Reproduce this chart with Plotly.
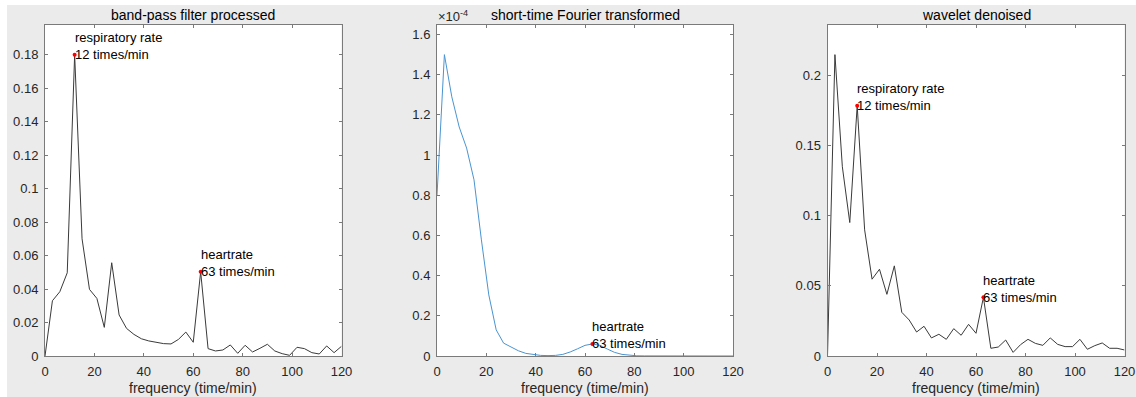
import plotly.graph_objects as go

# ---------------- data ----------------
freq = [0, 3, 6, 9, 12, 15, 18, 21, 24, 27, 30, 33, 36, 39, 42, 45, 48, 51, 54, 57,
        60, 63, 66, 69, 72, 75, 78, 81, 84, 87, 90, 93, 96, 99, 102, 105, 108, 111,
        114, 117, 120]

bandpass = [0.0, 0.033, 0.0384, 0.0497, 0.180, 0.070, 0.0398, 0.0344, 0.0171, 0.0557,
            0.0245, 0.0165, 0.0129, 0.0103, 0.0090, 0.0080, 0.0074, 0.0072, 0.0099, 0.0143,
            0.0082, 0.0503, 0.0044, 0.0030, 0.0036, 0.0066, 0.0016, 0.0064, 0.0024, 0.0046,
            0.0070, 0.0030, 0.0014, 0.0004, 0.0052, 0.0044, 0.0020, 0.0012, 0.0060, 0.0020,
            0.0058]

stft = [0.80e-4, 1.50e-4, 1.29e-4, 1.14e-4, 1.035e-4, 0.877e-4, 0.578e-4, 0.304e-4,
        0.130e-4, 0.064e-4, 0.045e-4, 0.026e-4, 0.013e-4, 0.0066e-4, 0.003e-4, 0.002e-4,
        0.003e-4, 0.008e-4, 0.020e-4, 0.036e-4, 0.053e-4, 0.060e-4, 0.053e-4, 0.035e-4,
        0.018e-4, 0.008e-4, 0.003e-4, 0.001e-4, 0.0005e-4, 0.0003e-4, 0.0002e-4,
        0.0002e-4, 0.0001e-4, 0.0001e-4, 0.0001e-4, 0.0001e-4, 0.0001e-4, 0.0001e-4,
        0.0001e-4, 0.0001e-4, 0.0001e-4]

wavelet = [0.0, 0.215, 0.135, 0.0952, 0.1786, 0.090, 0.0548, 0.0619, 0.044, 0.0643,
           0.0312, 0.0257, 0.0171, 0.0212, 0.0129, 0.0155, 0.0119, 0.0195, 0.0148, 0.0226,
           0.0162, 0.0419, 0.0055, 0.0064, 0.0114, 0.0026, 0.0081, 0.0119, 0.0090, 0.0076,
           0.0129, 0.0083, 0.0067, 0.0067, 0.0119, 0.0048, 0.0074, 0.0093, 0.0055, 0.0055,
           0.0043]

resp_rate = 12
heart_rate = 63

titles = ["band-pass filter processed", "short-time Fourier transformed", "wavelet denoised"]
x_label = "frequency (time/min)"

x_ticks = [0, 20, 40, 60, 80, 100, 120]
y1_ticks = [0, 0.02, 0.04, 0.06, 0.08, 0.10, 0.12, 0.14, 0.16, 0.18]
y1_text = ["0", "0.02", "0.04", "0.06", "0.08", "0.1", "0.12", "0.14", "0.16", "0.18"]
y2_ticks = [0, 0.2e-4, 0.4e-4, 0.6e-4, 0.8e-4, 1.0e-4, 1.2e-4, 1.4e-4, 1.6e-4]
y2_text = ["0", "0.2", "0.4", "0.6", "0.8", "1", "1.2", "1.4", "1.6"]
y3_ticks = [0, 0.05, 0.10, 0.15, 0.20]
y3_text = ["0", "0.05", "0.1", "0.15", "0.2"]

# ---------------- layout helpers ----------------
W, H = 1136, 397
FONT = "Liberation Sans, Arial, Helvetica, sans-serif"
AX_COLOR = "#7a7a7a"
TXT = "#262626"
BG = "#ebebeb"

px_x = [(45, 341.5), (437, 733), (827.5, 1124.5)]
y_top, y_bot = 24.5, 356
ydom = [1 - y_bot / H, 1 - y_top / H]

fig = go.Figure()

series = [bandpass, stft, wavelet]
colors = ["#3a3a3a", "#4a94d0", "#3a3a3a"]
ranges = [[0, 0.198], [0, 1.65e-4], [0, 0.2365]]
yticks = [(y1_ticks, y1_text), (y2_ticks, y2_text), (y3_ticks, y3_text)]

ri = freq.index(resp_rate)
hi = freq.index(heart_rate)

annotations = []
for i in range(3):
    xa = "x" if i == 0 else f"x{i+1}"
    ya = "y" if i == 0 else f"y{i+1}"
    fig.add_trace(go.Scatter(x=freq, y=series[i], mode="lines",
                             line=dict(color=colors[i], width=1),
                             xaxis=xa, yaxis=ya, showlegend=False, hoverinfo="skip"))
    if i == 1:
        px_list = [heart_rate]
        py_list = [series[i][hi]]
    else:
        px_list = [resp_rate, heart_rate]
        py_list = [series[i][ri], series[i][hi]]
    fig.add_trace(go.Scatter(x=px_list, y=py_list, mode="markers",
                             marker=dict(color="#ff0000", size=4),
                             xaxis=xa, yaxis=ya, showlegend=False, hoverinfo="skip"))
    labels = []
    if i != 1:
        labels.append((resp_rate, series[i][ri], f"respiratory rate<br>{resp_rate} times/min"))
    labels.append((heart_rate, series[i][hi], f"heartrate<br>{heart_rate} times/min"))
    for lx, ly, lt in labels:
        annotations.append(dict(x=lx, y=ly, xref=xa, yref=ya, text=lt, showarrow=False,
                                xanchor="left", yanchor="middle", align="left",
                                xshift=-2, yshift=8.5,
                                font=dict(family=FONT, size=13, color="#000000")))

    x0, x1 = px_x[i]
    axkw = dict(showline=True, linecolor=AX_COLOR, linewidth=1, mirror="ticks",
                ticks="inside", ticklen=3, tickcolor=AX_COLOR, tickwidth=1,
                showgrid=False, zeroline=False, automargin=False,
                tickfont=dict(family=FONT, size=13, color=TXT))
    fig.update_layout(**{
        ("xaxis" if i == 0 else f"xaxis{i+1}"): dict(
            domain=[x0 / W, x1 / W], range=[0, 120], tickvals=x_ticks,
            anchor=ya, ticklabelstandoff=3, **axkw),
        ("yaxis" if i == 0 else f"yaxis{i+1}"): dict(
            domain=ydom, range=ranges[i], tickvals=yticks[i][0], ticktext=yticks[i][1],
            anchor=xa, ticklabelstandoff=3, **axkw),
    })
    cx = (x0 + x1) / 2 / W
    annotations.append(dict(x=cx, y=1 - 14.5 / H, xref="paper", yref="paper",
                            text=titles[i], showarrow=False, xanchor="center",
                            yanchor="middle",
                            font=dict(family=FONT, size=14, color="#000000")))
    annotations.append(dict(x=cx, y=1 - 387.5 / H, xref="paper", yref="paper",
                            text=x_label, showarrow=False, xanchor="center",
                            yanchor="middle",
                            font=dict(family=FONT, size=14, color=TXT)))

# exponent label for the STFT panel
annotations.append(dict(x=436 / W, y=1 - 25.5 / H, xref="paper", yref="paper",
                        text="×10<sup>-4</sup>", showarrow=False, xanchor="left",
                        yanchor="bottom",
                        font=dict(family=FONT, size=13, color=TXT)))

# white border strips at the top and left edge of the figure
shapes = [
    dict(type="rect", xref="paper", yref="paper", x0=0, x1=1, y0=1 - 5 / H, y1=1,
         fillcolor="white", line=dict(width=0), layer="above"),
    dict(type="rect", xref="paper", yref="paper", x0=0, x1=7 / W, y0=0, y1=1,
         fillcolor="white", line=dict(width=0), layer="above"),
]

fig.update_layout(width=W, height=H,
                  margin=dict(l=0, r=0, t=0, b=0, autoexpand=False),
                  paper_bgcolor=BG, plot_bgcolor="white",
                  annotations=annotations, shapes=shapes, showlegend=False)

fig.write_html("out.html", config={"displayModeBar": False})
